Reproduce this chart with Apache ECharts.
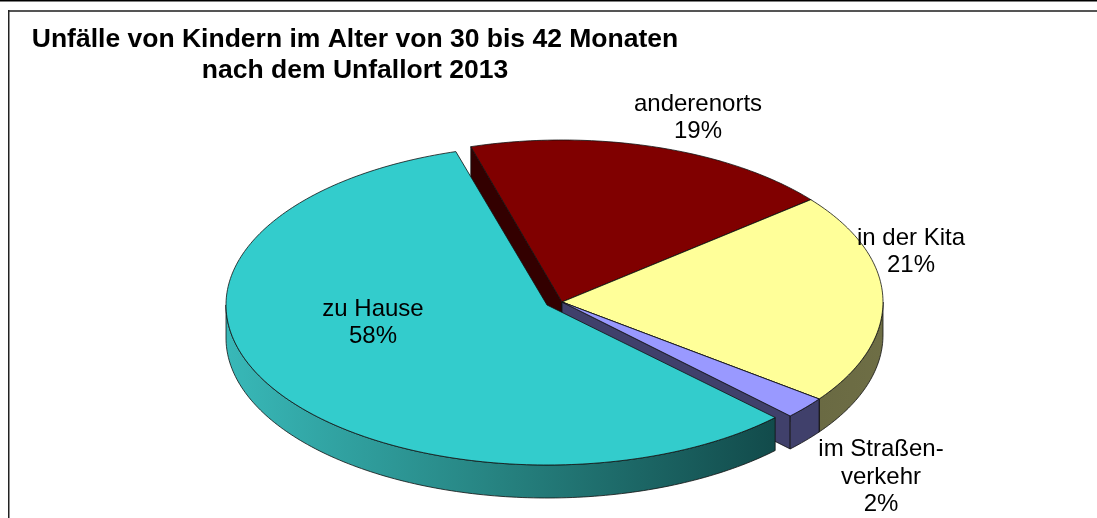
<!DOCTYPE html>
<html><head><meta charset="utf-8">
<style>html,body{margin:0;padding:0;background:#fff}#c{width:1097px;height:518px}</style>
<script src="https://cdn.jsdelivr.net/npm/echarts@6/dist/echarts.min.js"></script>
</head><body><div id="c"></div>
<script>
const titleText = "Unfälle von Kindern im Alter von 30 bis 42 Monaten\nnach dem Unfallort 2013";
const categories = ["anderenorts", "in der Kita", "im Straßen-\nverkehr", "zu Hause"];
const shares = [18.7, 21.1, 2.2, 58.0];
const topColors = ["#800000", "#FFFF99", "#9999FF", "#33CCCC"];

// drawing geometry of the tilted pie
const startDeg = -16.5, rx = 321, depth = 33;
const radiiY = [162, 162, 162, 160];
const centres = [[562, 302], [562, 302], [562, 302], [547, 305]];
const labelAt = [[698, 118], [911, 252], [881, 477], [373, 323]];
const faceColors = ["#330000", "#6A6A43", "#40406B", "#144F4F"];
const wallStops = [
  null,
  [[820, "#6A6A43"], [883, "#6E6E45"]],
  [[789, "#40406B"], [820, "#40406B"]],
  [[227, "#38B8B8"], [500, "#268280"], [775, "#124B4B"]]
];

const total = shares.reduce((a, b) => a + b, 0);
const pt = (c, ry, deg, dy) => {
  const t = deg * Math.PI / 180;
  return [c[0] + rx * Math.sin(t), c[1] - ry * Math.cos(t) + (dy || 0)];
};
const arc = (c, ry, a, b, dy) => {
  const out = [], n = Math.max(2, Math.ceil(Math.abs(b - a)));
  for (let i = 0; i <= n; i++) out.push(pt(c, ry, a + (b - a) * i / n, dy));
  return out;
};
const edge = {stroke: "#111", lineWidth: 0.8};

function renderSlice(params, api) {
  const i = params.dataIndex;
  let before = 0;
  for (let k = 0; k < i; k++) before += shares[k];
  const a = startDeg + before / total * 360;
  const b = a + api.value(0) / total * 360;
  const c = centres[i], ry = radiiY[i];
  const children = [];
  const face = (deg) => ({
    type: "polygon",
    shape: {points: [c, pt(c, ry, deg), pt(c, ry, deg, depth), [c[0], c[1] + depth]]},
    style: Object.assign({fill: faceColors[i]}, edge)
  });
  if (i !== 3) { children.push(face(a)); children.push(face(b)); }
  const wa = Math.max(a, 90), wb = Math.min(b, 270);
  if (wb > wa && wallStops[i]) {
    const s = wallStops[i], x0 = s[0][0], x1 = s[s.length - 1][0];
    const grad = new echarts.graphic.LinearGradient(x0, 0, x1, 0,
      s.map(p => ({offset: (p[0] - x0) / (x1 - x0), color: p[1]})), true);
    children.push({
      type: "polygon",
      shape: {points: arc(c, ry, wa, wb, 0).concat(arc(c, ry, wb, wa, depth))},
      style: Object.assign({fill: grad}, edge)
    });
  }
  children.push({
    type: "polygon",
    shape: {points: [c].concat(arc(c, ry, a, b, 0))},
    style: Object.assign({fill: api.visual("color")}, edge)
  });
  children.push({
    type: "text", z2: 100,
    style: {
      x: labelAt[i][0], y: labelAt[i][1],
      text: categories[i] + "\n" + Math.round(api.value(0)) + "%",
      align: "center", verticalAlign: "middle",
      fontFamily: "Liberation Sans, Arial", fontSize: 24, lineHeight: 27.5, fill: "#000"
    }
  });
  return {type: "group", children};
}

const chart = echarts.init(document.getElementById("c"), null, {renderer: "canvas"});
chart.setOption({
  animation: false,
  backgroundColor: "#fff",
  title: {
    text: titleText, left: 350, top: 19, textAlign: "center",
    textStyle: {fontFamily: "Liberation Sans, Arial", fontWeight: "bold", fontSize: 26.5, lineHeight: 31, color: "#000"}
  },
  graphic: [
    {type: "rect", shape: {x: 0, y: 0, width: 1097, height: 1.5}, style: {fill: "#000"}},
    {type: "rect", shape: {x: 8, y: 10, width: 1089, height: 2}, style: {fill: "#555"}},
    {type: "rect", shape: {x: 8, y: 10, width: 1.5, height: 508}, style: {fill: "#222"}}
  ],
  series: [{
    type: "custom",
    coordinateSystem: "none",
    renderItem: renderSlice,
    data: shares.map((v, i) => ({value: [v], name: categories[i], itemStyle: {color: topColors[i]}}))
  }]
});
</script></body></html>
